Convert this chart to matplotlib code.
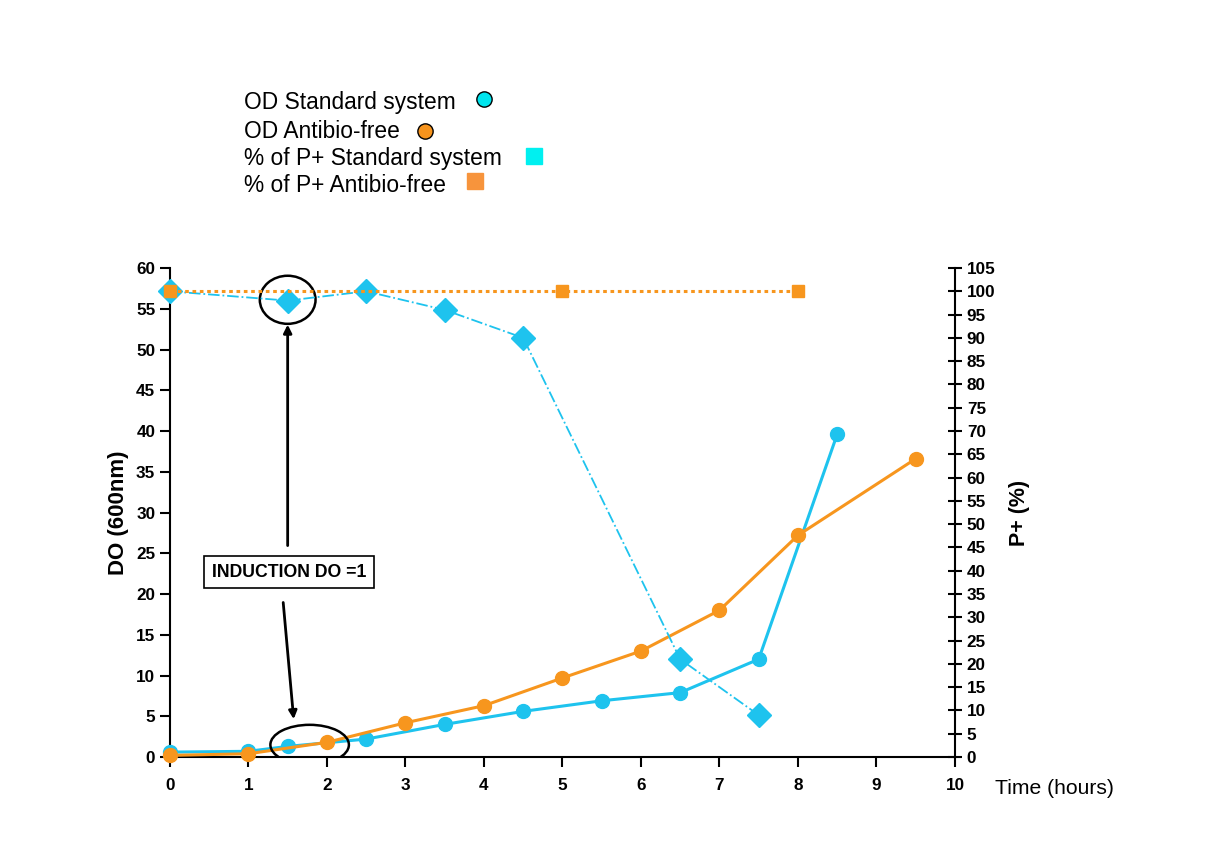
import matplotlib.pyplot as plt
from matplotlib.patches import Ellipse
from matplotlib.lines import Line2D

plt.rcParams['font.family'] = ['Liberation Sans', 'DejaVu Sans']

# OD (600nm), left axis
t_od_std = [0, 1, 1.5, 2.5, 3.5, 4.5, 5.5, 6.5, 7.5, 8.5]
od_std = [0.6, 0.7, 1.3, 2.2, 4.0, 5.6, 6.9, 7.9, 12.0, 39.6]
t_od_free = [0, 1, 2, 3, 4, 5, 6, 7, 8, 9.5]
od_free = [0.2, 0.4, 1.8, 4.2, 6.3, 9.7, 13.0, 18.0, 27.2, 36.6]

# % of P+, right axis
t_p_std = [0, 1.5, 2.5, 3.5, 4.5, 6.5, 7.5]
p_std = [100, 98, 100, 96, 90, 21, 9]
t_p_free = [0, 5, 8]
p_free = [100, 100, 100]

legend_labels = ['OD Standard system', 'OD Antibio-free',
                 '% of P+ Standard system', '% of P+ Antibio-free']

cyan_line = '#1EC3EE'
orange = '#F7961E'

fig = plt.figure(figsize=(12.05, 8.5), dpi=100)
ax = fig.add_axes([0.141, 0.1094, 0.6515, 0.5753])
ax2 = ax.twinx()

ax.plot(t_od_std, od_std, color=cyan_line, lw=2.2, marker='o', ms=10, zorder=3, clip_on=False)
ax.plot(t_od_free, od_free, color=orange, lw=2.2, marker='o', ms=10, zorder=4, clip_on=False)

ax2.plot(t_p_std, p_std, color=cyan_line, lw=1.3, ls='-.', marker='D', ms=12, zorder=3, clip_on=False)
ax2.plot(t_p_free, p_free, color=orange, lw=2.2, ls=(0, (1.2, 1.2)), marker='s', ms=8, zorder=4,
         clip_on=False)

ax.set_xlim(0, 10)
ax.set_ylim(0, 60)
ax2.set_ylim(0, 105)
ax.set_xticks(range(0, 11))
ax.set_yticks(range(0, 61, 5))
ax2.set_yticks(range(0, 106, 5))

for a in (ax, ax2):
    a.spines['top'].set_visible(False)
ax.spines['right'].set_visible(False)
ax2.spines['left'].set_visible(False)
ax2.spines['bottom'].set_visible(False)
for s in ('left', 'bottom'):
    ax.spines[s].set_linewidth(1.5)
ax2.spines['right'].set_linewidth(1.5)

ax.tick_params(axis='both', direction='out', length=7, width=1.5, labelsize=12.3)
ax2.tick_params(axis='y', direction='inout', length=10, width=1.5, labelsize=12.3)
for lbl in ax.get_xticklabels() + ax.get_yticklabels() + ax2.get_yticklabels():
    lbl.set_fontweight('bold')
ax.tick_params(axis='x', pad=8)

ax.set_ylabel('DO (600nm)', fontsize=16, fontweight='bold', labelpad=5)
ax2.set_ylabel('P+ (%)', fontsize=15.5, fontweight='bold', labelpad=10)
fig.text(995 / 1205, 1 - 788 / 850, 'Time (hours)', fontsize=15.2, va='center', ha='left')

# annotations
ax.add_patch(Ellipse((1.5, 56.1), 0.71, 5.9, fill=False, ec='black', lw=1.8, zorder=6))
ax.add_patch(Ellipse((1.78, 1.5), 1.0, 4.9, fill=False, ec='black', lw=1.8, zorder=6))
ax.annotate('', xy=(1.5, 53.4), xytext=(1.5, 25.6),
            arrowprops=dict(arrowstyle='-|>', color='black', lw=2, mutation_scale=12))
ax.annotate('', xy=(1.58, 4.3), xytext=(1.44, 19.3),
            arrowprops=dict(arrowstyle='-|>', color='black', lw=2, mutation_scale=12))
ax.text(1.52, 22.7, 'INDUCTION DO =1', fontsize=12.7, fontweight='bold', ha='center', va='center',
        bbox=dict(boxstyle='square,pad=0.45', fc='white', ec='black', lw=1.2))

# legend written as text with keys after the words
ys = [102, 131, 159, 186]
keys = [(484, 99, 'o', '#00E5EE', 'black'), (425, 131, 'o', '#F7941D', 'black'),
        (534, 156, 's', '#00F0F0', '#00F0F0'), (475, 181, 's', '#F7943C', '#F7943C')]
for label, y, (kx, ky, m, fc, ec) in zip(legend_labels, ys, keys):
    fig.text(244 / 1205, 1 - y / 850, label, fontsize=16.4, va='center', ha='left')
    fig.add_artist(Line2D([kx / 1205], [1 - ky / 850], marker=m, ms=11, mfc=fc, mec=ec,
                          mew=1, ls='none', transform=fig.transFigure))

fig.savefig('out.png', dpi=100)
